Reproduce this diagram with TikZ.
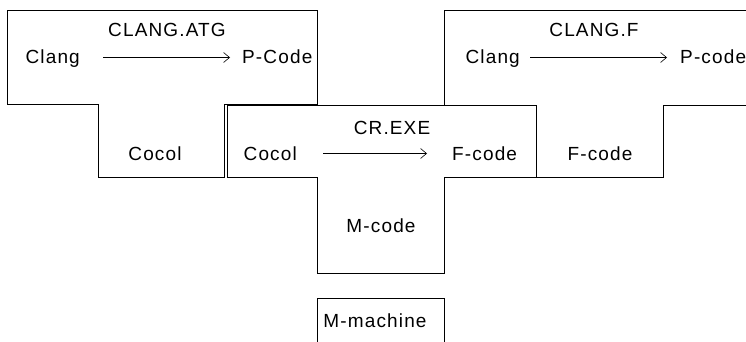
\documentclass[tikz,border=0pt]{standalone}
\usepackage{fontspec}
\setmainfont{Liberation Sans}[LetterSpace=6]
\usepackage{tikz}
\usetikzlibrary{arrows.meta}

\begin{document}
\begin{tikzpicture}[x=1pt, y={(0pt,-1pt)},
    tomb/.style={line width=0.6pt},
    lbl/.style={inner sep=0pt, text height=14pt, text depth=1pt,
                font=\fontsize{19}{21}\selectfont},
    arr/.style={line width=0.6pt, -{Straight Barb[length=6pt,width=10pt]}}]
            \clip (0,0) rectangle (746,342);
            % compiler Clang -> P-Code, written in Cocol
            \draw[tomb] (7,10) -- (317,10) -- (317,104) -- (224,104) -- (224,177)
                -- (98,177) -- (98,104) -- (7,104) -- cycle;
            % compiler Cocol -> F-code, running on M-code
            \draw[tomb] (227,105) -- (536,105) -- (536,177) -- (444,177) -- (444,273)
                -- (317,273) -- (317,177) -- (227,177) -- cycle;
            % compiler Clang -> P-code, written in F-code
            \draw[tomb] (444,10) -- (754,10) -- (754,105) -- (663,105) -- (663,177)
                -- (536,177) -- (536,105) -- (444,105) -- cycle;
            % the machine
            \draw[tomb] (317,350) -- (317,298) -- (444,298) -- (444,350);

            \node[lbl, anchor=east] (clangA) at (80,57.5) {Clang};
            \node[lbl, anchor=west] (pcodeA) at (242,57.5) {P-Code};
            \node[lbl] (atg) at (167,30.5) {CLANG.ATG};
            \node[lbl] (cocolA) at (155,153.5) {Cocol};

            \node[lbl, anchor=east] (cocolB) at (297,153.5) {Cocol};
            \node[lbl, anchor=west] (fcodeB) at (452,153.5) {F-code};
            \node[lbl] (crexe) at (392,128.5) {CR.EXE};
            \node[lbl] (mcode) at (381,225.5) {M-code};

            \node[lbl, anchor=east] (clangC) at (520,57.5) {Clang};
            \node[lbl, anchor=west] (pcodeC) at (680,57.5) {P-code};
            \node[lbl] (clangf) at (594,30.5) {CLANG.F};
            \node[lbl] (fcodeC) at (600,153.5) {F-code};

            \node[lbl] (mmach) at (375,320.5) {M-machine};

            \draw[arr, shorten <=23pt, shorten >=12pt] (clangA) -- (pcodeA);
            \draw[arr, shorten <=26pt, shorten >=25pt] (cocolB) -- (fcodeB);
            \draw[arr, shorten <=10pt, shorten >=13pt] (clangC) -- (pcodeC);
        \end{tikzpicture}
\end{document}
